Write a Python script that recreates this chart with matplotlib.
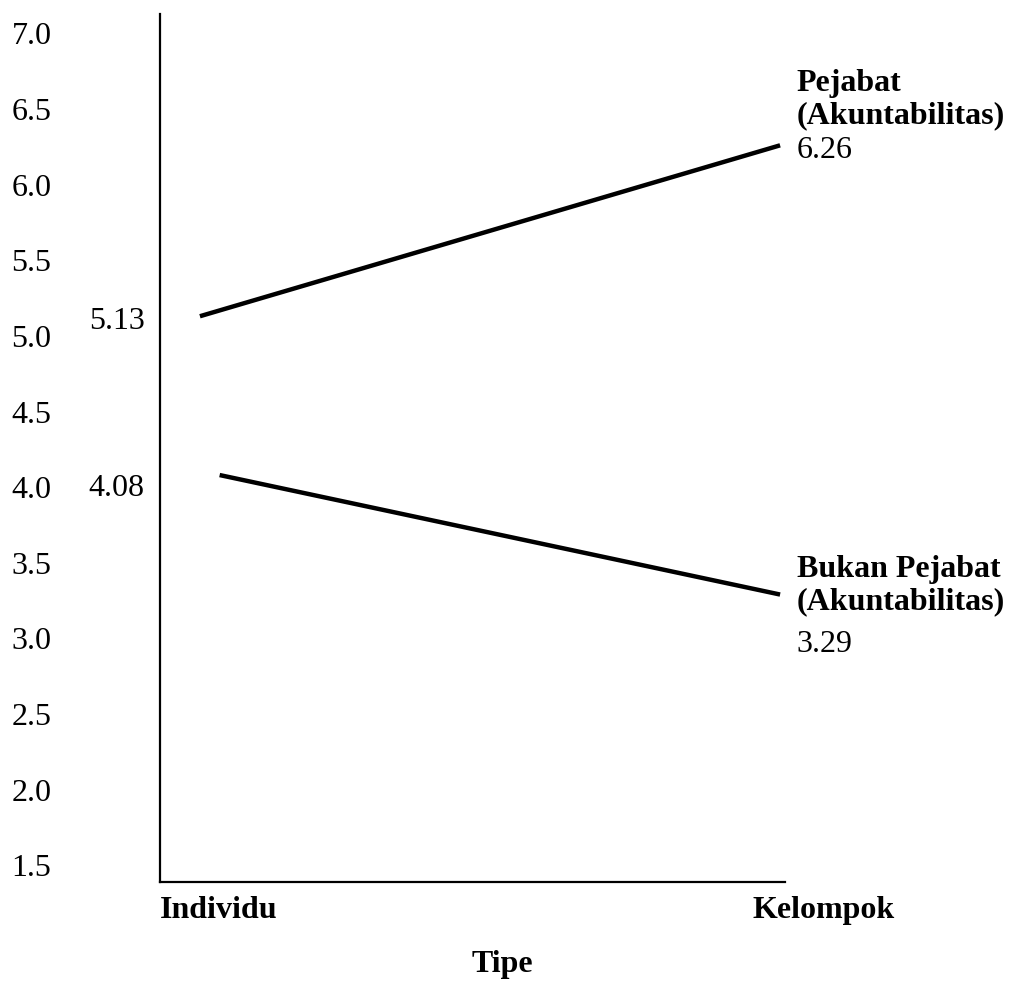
import matplotlib
matplotlib.use('Agg')
import matplotlib.pyplot as plt
import matplotlib.transforms as mtransforms

# data
kategori = ['Individu', 'Kelompok']
x_pejabat = [0.0, 1.0]
y_pejabat = [5.13, 6.26]
x_bukan = [0.034, 1.0]
y_bukan = [4.08, 3.29]
y_ticks = [1.5, 2.0, 2.5, 3.0, 3.5, 4.0, 4.5, 5.0, 5.5, 6.0, 6.5, 7.0]

plt.rcParams['font.family'] = ['Liberation Serif', 'DejaVu Serif']

fig = plt.figure(figsize=(10.12, 9.81), dpi=100)
ax = fig.add_axes([0.158, 0.101, 0.618, 0.885])

ax.plot(x_pejabat, y_pejabat, color='black', linewidth=3.2, solid_capstyle='butt')
ax.plot(x_bukan, y_bukan, color='black', linewidth=3.2, solid_capstyle='butt')

ax.set_xlim(-0.069, 1.009)
ax.set_ylim(1.39, 7.13)

ax.spines['top'].set_visible(False)
ax.spines['right'].set_visible(False)
ax.spines['left'].set_linewidth(1.6)
ax.spines['bottom'].set_linewidth(1.6)

ax.set_yticks(y_ticks)
ax.set_yticklabels([f'{v:.1f}' for v in y_ticks])
ax.tick_params(axis='y', length=0, pad=78, labelsize=23)
ax.set_xticks([])

fs = 23
# nilai awal di kiri
ax.annotate(f'{y_pejabat[0]:.2f}', xy=(ax.get_xlim()[0], y_pejabat[0]), xytext=(-11, -4),
            textcoords='offset points', ha='right', va='center', fontsize=fs, annotation_clip=False)
ax.annotate(f'{y_bukan[0]:.2f}', xy=(ax.get_xlim()[0], y_bukan[0]), xytext=(-11, -10),
            textcoords='offset points', ha='right', va='center', fontsize=fs, annotation_clip=False)

# label di kanan
ax.annotate('Pejabat\n(Akuntabilitas)', xy=(x_pejabat[1], y_pejabat[1]), xytext=(12, 11),
            textcoords='offset points', ha='left', va='bottom', fontsize=fs, fontweight='bold',
            linespacing=1.15, annotation_clip=False)
ax.annotate(f'{y_pejabat[1]:.2f}', xy=(x_pejabat[1], y_pejabat[1]), xytext=(12, -4),
            textcoords='offset points', ha='left', va='center', fontsize=fs, annotation_clip=False)

ax.annotate('Bukan Pejabat', xy=(x_bukan[1], y_bukan[1]), xytext=(12, 18),
            textcoords='offset points', ha='left', va='center', fontsize=fs, fontweight='bold',
            annotation_clip=False)
ax.annotate('(Akuntabilitas)', xy=(x_bukan[1], y_bukan[1]), xytext=(12, -5),
            textcoords='offset points', ha='left', va='center', fontsize=fs, fontweight='bold',
            annotation_clip=False)
ax.annotate(f'{y_bukan[1]:.2f}', xy=(x_bukan[1], y_bukan[1]), xytext=(12, -36),
            textcoords='offset points', ha='left', va='center', fontsize=fs, annotation_clip=False)

# kategori sumbu x
trans = mtransforms.blended_transform_factory(ax.transData, fig.transFigure)
ax.text(ax.get_xlim()[0], 0.072, kategori[0], transform=trans, ha='left', va='center',
        fontsize=fs, fontweight='bold')
ax.text(0.952, 0.072, kategori[1], transform=trans, ha='left', va='center',
        fontsize=fs, fontweight='bold')
fig.text(0.496, 0.017, 'Tipe', ha='center', va='center', fontsize=fs, fontweight='bold')

fig.savefig('out.png', dpi=100)
